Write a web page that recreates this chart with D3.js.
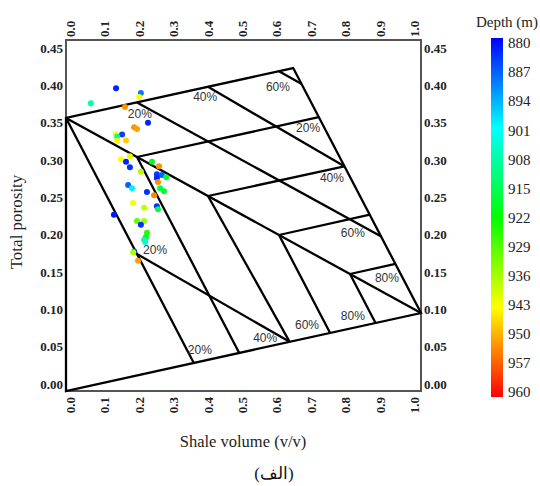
<!DOCTYPE html>
<html>
<head>
<meta charset="utf-8">
<script src="https://cdn.jsdelivr.net/npm/d3@7/dist/d3.min.js"></script>
<style>
body { margin: 0; background: #fff; }
svg text { font-family: "Liberation Serif", "Times New Roman", serif; }
</style>
</head>
<body>
<div id="chart"></div>
<script>
var width = 540;
var height = 486;

var xTicks = [0, 0.1, 0.2, 0.3, 0.4, 0.5, 0.6, 0.7, 0.8, 0.9, 1.0];
var yTicks = [0, 0.05, 0.10, 0.15, 0.20, 0.25, 0.30, 0.35, 0.40, 0.45];
var depthTicks = [880, 887, 894, 901, 908, 915, 922, 929, 936, 943, 950, 957, 960];

// template outline: quartz, clean sand, top corner, shale
var outline = [[0, 0], [0, 0.35], [0.64, 0.414], [1, 0.10]];

// inner template lines [shale volume, porosity]
var gridLines = [
  [[0, 0.35], [1, 0.10]],
  [[0, 0.35], [0.36, 0.036]],
  [[0.2, 0.1756], [0.63, 0.063]],
  [[0.2, 0.37], [0.888, 0.198]],
  [[0.4, 0.39], [0.784, 0.288]],
  [[0.6, 0.41], [0.6625, 0.394]],
  [[0.2, 0.30], [0.712, 0.351]],
  [[0.4, 0.25], [0.784, 0.288]],
  [[0.6, 0.20], [0.856, 0.226]],
  [[0.8, 0.15], [0.928, 0.163]],
  [[0.2, 0.30], [0.488, 0.0488]],
  [[0.4, 0.25], [0.63, 0.063]],
  [[0.6, 0.20], [0.744, 0.0744]],
  [[0.8, 0.15], [0.872, 0.0872]]
];

var pctLabels = [
  {t: "20%", v: 0.208, p: 0.355},
  {t: "40%", v: 0.392, p: 0.377},
  {t: "60%", v: 0.597, p: 0.390},
  {t: "20%", v: 0.682, p: 0.337},
  {t: "40%", v: 0.749, p: 0.273},
  {t: "60%", v: 0.808, p: 0.203},
  {t: "80%", v: 0.904, p: 0.145},
  {t: "20%", v: 0.377, p: 0.053},
  {t: "40%", v: 0.561, p: 0.068},
  {t: "60%", v: 0.679, p: 0.085},
  {t: "80%", v: 0.808, p: 0.096},
  {t: "20%", v: 0.251, p: 0.181}
];

var sampleVsh = [0.141, 0.211, 0.206, 0.070, 0.166, 0.231, 0.192, 0.200, 0.158, 0.141, 0.144, 0.144, 0.169, 0.180, 0.155, 0.169,
  0.180, 0.242, 0.211, 0.262, 0.256, 0.270, 0.282, 0.256, 0.259, 0.265, 0.276, 0.175, 0.186, 0.228, 0.248, 0.189,
  0.220, 0.256, 0.259, 0.135, 0.200, 0.220, 0.211, 0.228, 0.225, 0.220, 0.223, 0.192, 0.189, 0.203];
var samplePhi = [0.388, 0.382, 0.377, 0.369, 0.364, 0.344, 0.338, 0.336, 0.329, 0.329, 0.326, 0.321, 0.321, 0.301, 0.297, 0.294,
  0.287, 0.294, 0.281, 0.288, 0.278, 0.277, 0.274, 0.273, 0.268, 0.260, 0.256, 0.264, 0.260, 0.255, 0.251, 0.241,
  0.235, 0.237, 0.233, 0.226, 0.218, 0.218, 0.213, 0.203, 0.197, 0.194, 0.191, 0.179, 0.178, 0.167];
var sampleDepth = [883, 890, 943, 908, 952, 883, 952, 951, 885, 942, 910, 944, 947, 941, 943, 883,
  884, 920, 937, 952, 885, 888, 918, 883, 952, 916, 918, 888, 900, 884, 953, 942,
  938, 884, 917, 882, 930, 935, 884, 925, 920, 908, 905, 885, 936, 951];

var svg = d3.select("#chart")
  .append("svg")
    .attr("width", width)
    .attr("height", height);

var x = d3.scaleLinear().domain([0, 1]).range([66, 421]);
var y = d3.scaleLinear().domain([0, 0.45]).range([391, 40]);
// tick labels in the figure sit slightly inside the frame
var xLab = d3.scaleLinear().domain([0, 1]).range([70, 414]);
var yLab = d3.scaleLinear().domain([0, 0.45]).range([384, 48]);

var depthPos = d3.scaleLinear().domain(depthTicks).range(depthTicks.map((d, i) => i / (depthTicks.length - 1)));
var jet = d3.scaleLinear()
  .domain([0, 0.25, 0.5, 0.75, 1])
  .range(["#0000ff", "#00ffff", "#00ff00", "#ffff00", "#ff0000"]);
var color = d => jet(depthPos(d));

function styleAxis(g) {
  g.select(".domain").remove();
  g.attr("font-family", null).attr("font-size", null);
  g.selectAll("text")
    .style("font-size", "13px")
    .style("font-weight", "bold")
    .attr("fill", "#222");
}

svg.append("g")
  .attr("transform", "translate(66,0)")
  .call(d3.axisLeft(yLab).tickValues(yTicks).tickSize(0).tickPadding(3).tickFormat(d3.format(".2f")))
  .call(styleAxis);

svg.append("g")
  .attr("transform", "translate(421,0)")
  .call(d3.axisRight(yLab).tickValues(yTicks).tickSize(0).tickPadding(3).tickFormat(d3.format(".2f")))
  .call(styleAxis);

svg.append("g")
  .attr("transform", "translate(0,40)")
  .call(d3.axisTop(xLab).tickValues(xTicks).tickSize(0).tickFormat(d3.format(".1f")))
  .call(styleAxis)
  .selectAll("text")
    .attr("transform", "rotate(-90)")
    .attr("x", 3).attr("y", 0).attr("dy", "0.35em")
    .style("text-anchor", "start");

svg.append("g")
  .attr("transform", "translate(0,391)")
  .call(d3.axisBottom(xLab).tickValues(xTicks).tickSize(0).tickFormat(d3.format(".1f")))
  .call(styleAxis)
  .selectAll("text")
    .attr("transform", "rotate(-90)")
    .attr("x", -6).attr("y", 0).attr("dy", "0.35em")
    .style("text-anchor", "end");

// frame
svg.append("rect")
  .attr("x", x(0)).attr("y", y(0.45))
  .attr("width", x(1) - x(0)).attr("height", y(0) - y(0.45))
  .attr("fill", "none").attr("stroke", "#555").attr("stroke-width", 2);

var line = d3.line().x(d => x(d[0])).y(d => y(d[1]));

svg.append("path")
  .attr("d", line(outline) + "Z")
  .attr("fill", "none").attr("stroke", "#000").attr("stroke-width", 2.3)
  .attr("stroke-linejoin", "miter");

svg.selectAll(".grid").data(gridLines).enter().append("path")
  .attr("class", "grid")
  .attr("d", line)
  .attr("fill", "none").attr("stroke", "#000").attr("stroke-width", 2.3);

svg.selectAll(".pct").data(pctLabels).enter().append("text")
  .attr("class", "pct")
  .attr("x", d => x(d.v)).attr("y", d => y(d.p))
  .attr("dy", "0.35em")
  .attr("text-anchor", "middle")
  .style("font-family", "'Liberation Sans', Arial, sans-serif")
  .style("font-size", "12px")
  .attr("fill", "#333")
  .text(d => d.t);

svg.selectAll(".dot").data(d3.range(sampleVsh.length)).enter().append("circle")
  .attr("class", "dot")
  .attr("cx", i => x(sampleVsh[i]))
  .attr("cy", i => y(samplePhi[i]))
  .attr("r", 3)
  .attr("fill", i => color(sampleDepth[i]));

// axis titles
svg.append("text")
  .attr("transform", "translate(22,222) rotate(-90)")
  .attr("text-anchor", "middle")
  .style("font-size", "17px")
  .attr("fill", "#222")
  .text("Total porosity");

svg.append("text")
  .attr("x", 243).attr("y", 447)
  .attr("text-anchor", "middle")
  .style("font-size", "16.5px")
  .attr("fill", "#222")
  .text("Shale volume (v/v)");

svg.append("text")
  .attr("x", 274).attr("y", 479)
  .attr("text-anchor", "middle")
  .style("font-size", "17px")
  .attr("fill", "#111")
  .text("(الف)");

// colour bar
var cbY = d3.scalePoint().domain(depthTicks).range([43, 392]);
var grad = svg.append("defs").append("linearGradient")
  .attr("id", "depthGrad")
  .attr("x1", 0).attr("y1", 0).attr("x2", 0).attr("y2", 1);
grad.selectAll("stop").data(d3.range(0, 1.0001, 0.05)).enter().append("stop")
  .attr("offset", d => d)
  .attr("stop-color", d => jet(d));

svg.append("rect")
  .attr("x", 491).attr("y", 38)
  .attr("width", 12).attr("height", 359)
  .attr("fill", "url(#depthGrad)");

svg.selectAll(".cbl").data(depthTicks).enter().append("text")
  .attr("class", "cbl")
  .attr("x", 508).attr("y", d => cbY(d))
  .attr("dy", "0.35em")
  .style("font-size", "15px")
  .attr("fill", "#222")
  .text(d => d);

svg.append("text")
  .attr("x", 507).attr("y", 22)
  .attr("dy", "0.35em")
  .attr("text-anchor", "middle")
  .style("font-size", "15px")
  .attr("fill", "#222")
  .text("Depth (m)");
</script>
</body>
</html>
